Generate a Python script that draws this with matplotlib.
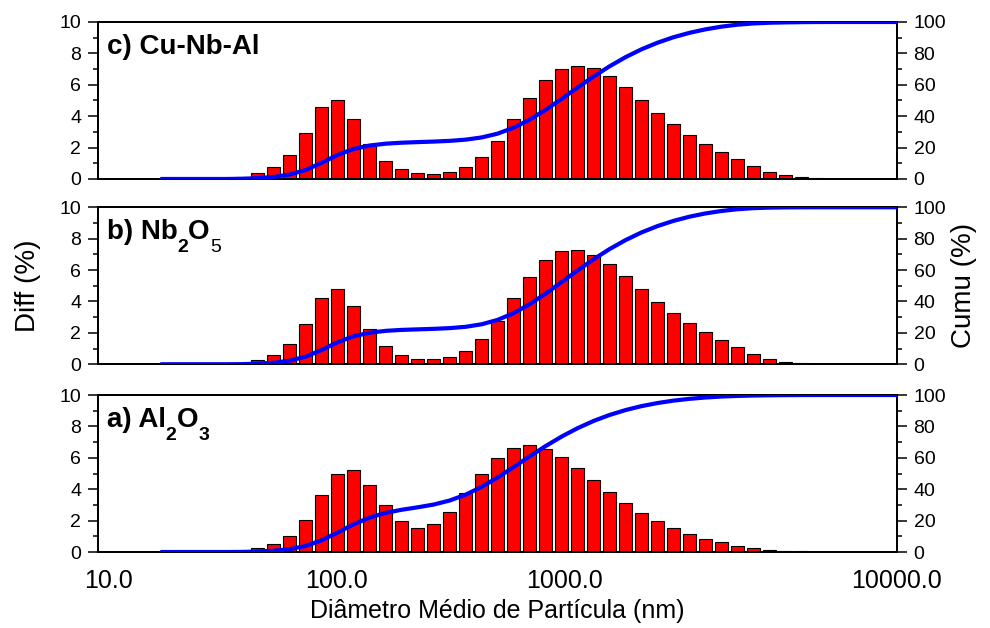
import numpy as np
import matplotlib.pyplot as plt
import matplotlib.transforms as mtransforms

plt.rcParams['font.family'] = ['Liberation Sans', 'DejaVu Sans']

# bin centres (nm)
diameter = [17.3, 20.3, 23.8, 28.0, 32.9, 38.6, 45.4, 53.3, 62.6, 73.6,
            86.5, 101.6, 119.4, 140.6, 165.2, 194.1, 228.0, 267.9, 314.8, 369.8,
            434.5, 510.5, 599.8, 704.7, 827.9, 972.7, 1142.8, 1342.7, 1577.6, 1853.5,
            2177.7, 2558.6, 3006.1, 3531.9, 4149.6, 4875.4, 5728.1, 6730, 7907, 9290,
            10915, 12824, 15067, 17702, 20800, 24440, 28720]

# differential volume (%) per bin
diff_c = [0, 0, 0, 0, 0, 0.15, 0.38, 0.79, 1.53, 2.95,
          4.61, 5.03, 3.80, 2.21, 1.15, 0.62, 0.38, 0.34, 0.45, 0.79,
          1.40, 2.44, 3.80, 5.16, 6.28, 7.00, 7.22, 7.05, 6.54, 5.84,
          5.05, 4.22, 3.50, 2.82, 2.23, 1.74, 1.25, 0.81, 0.45, 0.23,
          0.15, 0.08, 0.03, 0, 0, 0, 0]
diff_b = [0, 0, 0, 0, 0, 0.06, 0.28, 0.62, 1.26, 2.56,
          4.21, 4.81, 3.74, 2.22, 1.15, 0.58, 0.34, 0.32, 0.45, 0.83,
          1.58, 2.76, 4.21, 5.58, 6.62, 7.20, 7.29, 6.97, 6.37, 5.62,
          4.81, 3.97, 3.27, 2.61, 2.05, 1.54, 1.09, 0.68, 0.34, 0.15,
          0.06, 0.02, 0.01, 0, 0, 0, 0]
diff_a = [0, 0, 0, 0, 0, 0.06, 0.26, 0.51, 1.02, 2.04,
          3.62, 4.98, 5.23, 4.30, 2.98, 1.98, 1.55, 1.77, 2.57, 3.74,
          4.98, 6.00, 6.62, 6.79, 6.57, 6.06, 5.36, 4.60, 3.83, 3.13,
          2.51, 1.98, 1.53, 1.15, 0.85, 0.62, 0.40, 0.26, 0.15, 0.09,
          0.06, 0.02, 0, 0, 0, 0, 0]

# panel labels as (text, is_subscript, weight) pieces
panel_labels = [
    [('c) Cu-Nb-Al', False, 'bold')],
    [('b) Nb', False, 'bold'), ('2', True, 'bold'), ('O', False, 'bold'), ('5', True, 'normal')],
    [('a) Al', False, 'bold'), ('2', True, 'bold'), ('O', False, 'bold'), ('3', True, 'bold')],
]
panel_data = [diff_c, diff_b, diff_a]

xtick_vals = [10, 100, 1000, diameter[-1]]
xtick_labels = ['10.0', '100.0', '1000.0', '10000.0']

fig = plt.figure(figsize=(9.9, 6.28), dpi=100)
renderer = fig.canvas.get_renderer()
bottoms = [0.715, 0.420, 0.121]

logd = np.log10(diameter)
step = np.gradient(logd)
left_edge = 10 ** (logd - 0.405 * step)
right_edge = 10 ** (logd + 0.405 * step)


def chained_label(ax, pieces, x, y):
    # draw text pieces one after another, subscripts lowered and smaller
    xoff = 0.0
    for s, sub, wt in pieces:
        size = 14 if sub else 20
        dy = -9 * fig.dpi / 72 if sub else 0
        tr = mtransforms.offset_copy(ax.transAxes, fig=fig, x=xoff, y=dy, units='dots')
        t = ax.text(x, y, s, transform=tr, fontsize=size, fontweight=wt,
                    va='baseline', ha='left')
        t.draw(renderer)
        xoff += t.get_window_extent(renderer).width


for i, (lab, diff) in enumerate(zip(panel_labels, panel_data)):
    ax = fig.add_axes([0.099, bottoms[i], 0.807, 0.250])
    diff = np.array(diff)
    ax.bar(left_edge, diff, width=right_edge - left_edge, align='edge',
           color='#ff0000', edgecolor='black', linewidth=0.8, zorder=2)
    ax.set_xscale('log')
    ax.set_xlim(10 ** 0.956, diameter[-1])
    ax.set_ylim(0, 10)
    ax.set_yticks([0, 2, 4, 6, 8, 10])
    ax.set_yticks([1, 3, 5, 7, 9], minor=True)
    ax.tick_params(axis='y', which='major', direction='out', length=7, width=1.1,
                   labelsize=14, pad=5)
    ax.tick_params(axis='y', which='minor', direction='out', length=3.5, width=1.1)
    ax.xaxis.set_minor_locator(plt.NullLocator())
    if i == 2:
        ax.set_xticks(xtick_vals)
        ax.set_xticklabels(xtick_labels)
        ax.tick_params(axis='x', length=0, labelsize=18, pad=12)
    else:
        ax.set_xticks([])
    for sp in ax.spines.values():
        sp.set_linewidth(1.4)

    cum = np.cumsum(diff) / diff.sum() * 100
    ax2 = ax.twinx()
    ax2.plot(diameter, cum, color='#0000ff', linewidth=3, zorder=3)
    ax2.set_ylim(0, 100)
    ax2.set_yticks([0, 20, 40, 60, 80, 100])
    ax2.set_yticks([10, 30, 50, 70, 90], minor=True)
    ax2.tick_params(axis='y', which='major', direction='out', length=7, width=1.1,
                    labelsize=14, pad=5)
    ax2.tick_params(axis='y', which='minor', direction='out', length=3.5, width=1.1)
    for sp in ax2.spines.values():
        sp.set_linewidth(1.4)

    chained_label(ax2, lab, 0.011, 0.795)

fig.text(0.028, 0.545, 'Diff (%)', rotation=90, fontsize=20, ha='center', va='center')
fig.text(0.974, 0.545, 'Cumu (%)', rotation=90, fontsize=20, ha='center', va='center')
fig.text(0.502, 0.027, 'Diâmetro Médio de Partícula (nm)', fontsize=18,
         ha='center', va='center')

fig.savefig('out.png', dpi=100)
